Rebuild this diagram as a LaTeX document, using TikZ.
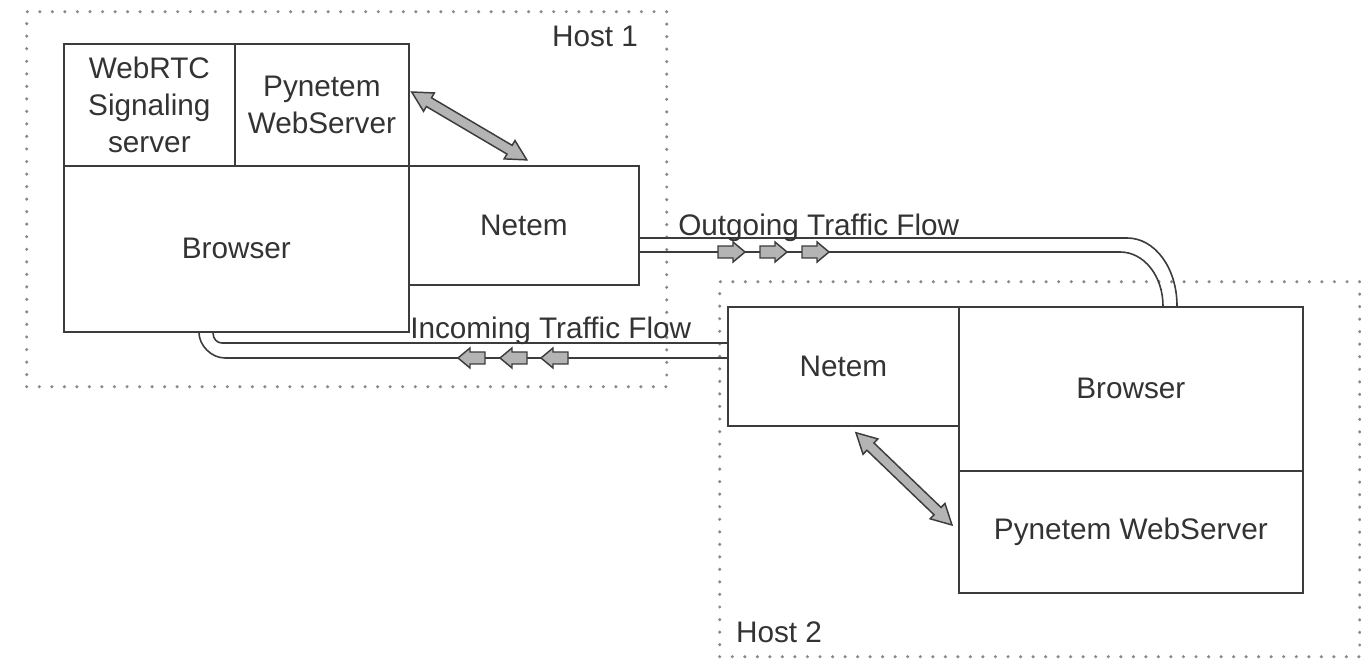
\documentclass[tikz,border=0pt]{standalone}
\usepackage{fontspec}
\setmainfont{Liberation Sans}
\usetikzlibrary{calc}

\definecolor{linec}{HTML}{3C3C3C}
\definecolor{txtc}{HTML}{333333}
\definecolor{dotc}{HTML}{8A8A8A}
\definecolor{fillc}{HTML}{B4B4B4}

% Block arrow with a head at both ends, laid between two named points
\newcommand\twinarrow[2]{%
  \path let \p1=($(#2)-(#1)$) in
    \pgfextra{\pgfmathsetmacro\taLen{veclen(\x1,\y1)}%
              \pgfmathsetmacro\taAng{atan2(\y1,\x1)}%
              \pgfmathsetmacro\taNeck{\taLen-15}%
              \xdef\taAng{\taAng}\xdef\taLen{\taLen}\xdef\taNeck{\taNeck}};
  \draw[twin, shift={(#1)}, rotate=\taAng]
    (0pt,0pt) -- (15pt,8pt) -- (15pt,3.8pt) -- ({\taNeck pt},3.8pt)
    -- ({\taNeck pt},8pt) -- ({\taLen pt},0pt) -- ({\taNeck pt},-8pt)
    -- ({\taNeck pt},-3.8pt) -- (15pt,-3.8pt) -- (15pt,-8pt) -- cycle;
}

\tikzset{
  txt/.style={text=txtc, font=\fontsize{22.3}{28}\selectfont},
  box/.style={txt, draw=linec, line width=1.3pt, inner sep=0pt,
              anchor=north west, align=center},
  hostframe/.style={draw=dotc, line width=2.6pt, dash pattern=on 0pt off 9.4pt,
                    line cap=round, inner sep=0pt, anchor=north west},
  pipe/.style={draw=linec, line width=1.2pt},
  twin/.style={draw=linec, fill=fillc, line width=1.1pt, line join=miter},
  flowhead/.style={draw=linec, fill=fillc, line width=1.1pt, line join=miter},
  pics/flow/.style={code={
    \path[flowhead] (0,0) -- (-12,-10) -- (-12,-6) -- (-27,-6)
      -- (-27,6) -- (-12,6) -- (-12,10) -- cycle;}},
}

\begin{document}
\begin{tikzpicture}[x=0.75pt, y=-0.75pt]
\useasboundingbox (0,0) rectangle (1361,659);

% ---- host frames ----
\node[hostframe, minimum width=480pt, minimum height=281.25pt] (h1) at (25,10) {};
\node[hostframe, minimum width=480pt, minimum height=281.25pt] (h2) at (718,280) {};
\node[txt, anchor=center] (h1lab) at (595,36) {Host 1};
\node[txt, anchor=center] (h2lab) at (779,632) {Host 2};

% ---- host 1 ----
\node[box, minimum width=128.25pt, minimum height=91.5pt] (sig) at (63,43)
  {WebRTC\\Signaling\\server};
\node[box, minimum width=130.5pt, minimum height=91.5pt] (pyws1) at (234,43)
  {Pynetem\\WebServer};
\node[box, minimum width=258.75pt, minimum height=124.5pt] (br1) at (63,165) {Browser};
\node[box, minimum width=172.5pt, minimum height=89.25pt] (net1) at (408,165) {Netem};

% ---- host 2 ----
\node[box, minimum width=173.25pt, minimum height=89.25pt] (net2) at (727,306) {Netem};
\node[box, minimum width=258pt, minimum height=123pt] (br2) at (958,306) {Browser};
\node[box, minimum width=258pt, minimum height=91.5pt] (pyws2) at (958,470)
  {Pynetem WebServer};

% ---- outgoing pipe: host 1 netem to host 2 browser ----
\coordinate (oOut) at (br2.north -| 1177,0);
\coordinate (oIn)  at (br2.north -| 1163,0);
\draw[pipe] (net1.east |- 0,238) -- (1127,238)
  .. controls (1155,238) and (1177,268) .. (oOut);
\draw[pipe] (net1.east |- 0,252) -- (1120,252)
  .. controls (1144,252) and (1163,276) .. (oIn);
\node[txt, anchor=base west, inner sep=0pt] (outlab) at (678,236) {Outgoing Traffic Flow};
\pic at (745,252) {flow};
\pic at (787,252) {flow};
\pic at (829,252) {flow};

% ---- incoming pipe: host 2 netem to host 1 browser ----
\coordinate (iOut) at (br1.south -| 199,0);
\coordinate (iIn)  at (br1.south -| 213,0);
\draw[pipe] (net2.west |- 0,358) -- (225,358)
  .. controls (211,358) and (199,345) .. (iOut);
\draw[pipe] (net2.west |- 0,343) -- (222,343)
  .. controls (217,343) and (213,339) .. (iIn);
\node[txt, anchor=base west, inner sep=0pt] (inlab) at (410,339) {Incoming Traffic Flow};
\pic[xscale=-1] at (458,358) {flow};
\pic[xscale=-1] at (500,358) {flow};
\pic[xscale=-1] at (541,358) {flow};

% ---- control links between web servers and netem ----
\coordinate (a1s) at ($(pyws1.north east)+(2,49)$);
\coordinate (a1e) at ($(net1.north west)+(119,-5)$);
\twinarrow{a1s}{a1e}
\coordinate (a2s) at ($(net2.south west)+(129,6)$);
\coordinate (a2e) at ($(pyws2.north west)+(-6,55)$);
\twinarrow{a2s}{a2e}
\end{tikzpicture}
\end{document}
